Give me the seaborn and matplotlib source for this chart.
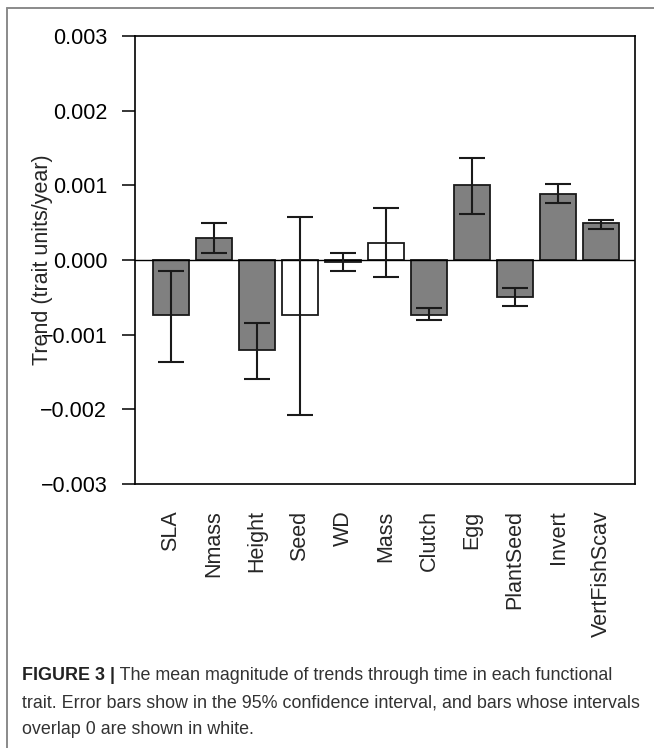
import matplotlib
matplotlib.use("Agg")
import matplotlib.pyplot as plt
from matplotlib.lines import Line2D
import numpy as np
import pandas as pd
import seaborn as sns

# ---- data ----
traits = ["SLA", "Nmass", "Height", "Seed", "WD", "Mass", "Clutch", "Egg",
          "PlantSeed", "Invert", "VertFishScav"]
trend = [-0.00074, 0.00029, -0.00121, -0.00074, -0.00003, 0.00023,
         -0.00073, 0.00100, -0.00050, 0.00089, 0.00049]
ci_low = [-0.00136, 0.00009, -0.00160, -0.00208, -0.00015, -0.00023,
          -0.00081, 0.00062, -0.00062, 0.00077, 0.00041]
ci_high = [-0.00015, 0.00049, -0.00084, 0.00058, 0.00009, 0.00070,
           -0.00064, 0.00137, -0.00038, 0.00102, 0.00054]
status = ["differs", "differs", "differs", "overlaps", "differs", "overlaps",
          "differs", "differs", "differs", "differs", "differs"]
yticks = [-0.003, -0.002, -0.001, 0.0, 0.001, 0.002, 0.003]
ytick_labels = ["\u22120.003", "\u22120.002", "\u22120.001", "0.000",
                "0.001", "0.002", "0.003"]
ylabel = "Trend (trait units/year)"
caption_bold = "FIGURE 3 |"
caption_lines = [
    " The mean magnitude of trends through time in each functional",
    "trait. Error bars show in the 95% confidence interval, and bars whose intervals",
    "overlap 0 are shown in white.",
]

sns.set_style("white")
plt.rcParams["font.family"] = ["Liberation Sans", "DejaVu Sans"]

df = pd.DataFrame({"trait": traits, "trend": trend, "status": status})

W, H = 654, 748
fig = plt.figure(figsize=(W / 100, H / 100), dpi=100)
ax = fig.add_axes([135 / W, 1 - 484 / H, 500 / W, 448 / H])

sns.barplot(data=df, x="trait", y="trend", hue="status",
            palette={"differs": "#808080", "overlaps": "white"},
            dodge=False, width=0.837, errorbar=None, legend=False,
            edgecolor="#1a1a1a", linewidth=1.3, ax=ax, zorder=2)

t = np.asarray(trend)
yerr = [t - np.asarray(ci_low), np.asarray(ci_high) - t]
ax.errorbar(np.arange(len(traits)), t, yerr=yerr, fmt="none",
            ecolor="#1a1a1a", elinewidth=1.5, capsize=9.7, capthick=1.5,
            zorder=4)
ax.axhline(0, color="black", lw=1.0, zorder=3)

ax.set_xlim(-0.837, 10.79)
ax.set_ylim(-0.003, 0.003)
ax.set_yticks(yticks)
ax.set_yticklabels(ytick_labels)
ax.set_xlabel("")
ax.set_ylabel(ylabel, fontsize=15.5)
ax.yaxis.label.set_va("center")
ax.yaxis.set_label_coords((43 - 135) / 500, 0.5)

ax.tick_params(axis="y", direction="out", length=9.5, width=1.1,
               labelsize=15.5, pad=10.5, left=True, colors="black")
ax.tick_params(axis="x", length=0, labelsize=15.5, pad=19, rotation=90)
for s in ax.spines.values():
    s.set_visible(True)
    s.set_color("black")
    s.set_linewidth(1.2)

# outer frame (left and top edges)
fig.add_artist(Line2D([7 / W, 7 / W], [0, 1 - 8 / H], transform=fig.transFigure,
                      color="#8a8a8a", lw=1.4))
fig.add_artist(Line2D([7 / W, 1], [1 - 8 / H, 1 - 8 / H], transform=fig.transFigure,
                      color="#8a8a8a", lw=1.4))

# caption
cap_fs = 12.9
cap_color = "#333333"
x0 = 22 / W
baselines = [680, 707, 734]
tb = fig.text(x0, 1 - baselines[0] / H, caption_bold, fontsize=cap_fs,
              weight="bold", color="#222222", va="baseline", ha="left")
fig.canvas.draw()
bb = tb.get_window_extent()
fig.text(bb.x1 / W, 1 - baselines[0] / H, caption_lines[0], fontsize=cap_fs,
         color=cap_color, va="baseline", ha="left")
for line, yb in zip(caption_lines[1:], baselines[1:]):
    fig.text(x0, 1 - yb / H, line, fontsize=cap_fs, color=cap_color,
             va="baseline", ha="left")

fig.savefig("out.png", dpi=100)
